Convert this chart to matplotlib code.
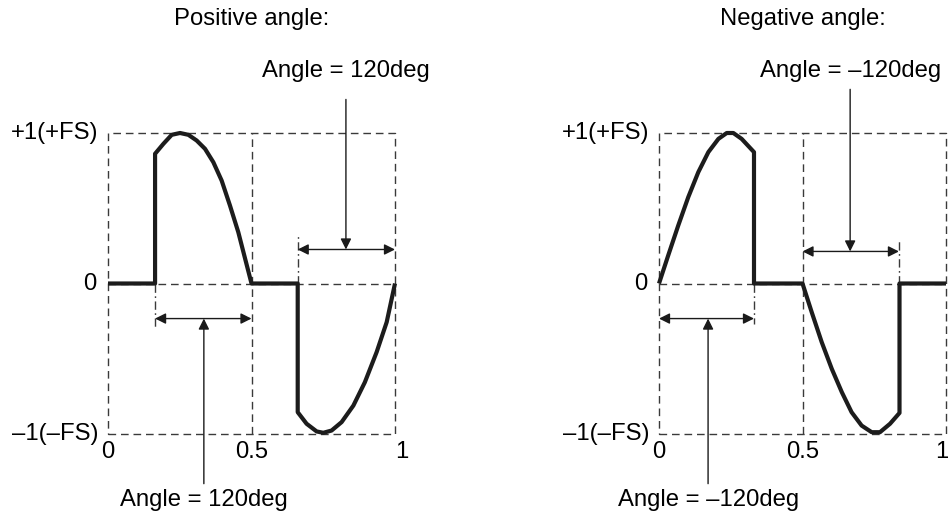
import matplotlib
matplotlib.use("Agg")
import matplotlib.pyplot as plt

plt.rcParams['font.family'] = ['Liberation Sans', 'DejaVu Sans']
plt.rcParams['font.size'] = 17.2

# waveform vertices (x in cycles, y in full scale)
pos_x = [0, 0.164, 0.164, 0.193, 0.222, 0.251, 0.280, 0.309, 0.338, 0.367,
         0.396, 0.425, 0.454, 0.5,
         0.661, 0.661, 0.692, 0.727, 0.750, 0.779, 0.814, 0.855, 0.895,
         0.936, 0.971, 1.0]
pos_y = [0, 0, 0.862, 0.928, 0.988, 1.0, 0.988, 0.950, 0.895, 0.806,
         0.684, 0.518, 0.341, 0,
         0, -0.855, -0.932, -0.983, -0.992, -0.977, -0.921, -0.811, -0.656,
         -0.456, -0.257, 0]

neg_x = [0, 0.032, 0.067, 0.102, 0.137, 0.172, 0.207, 0.236, 0.259, 0.288,
         0.331, 0.331, 0.5,
         0.532, 0.567, 0.602, 0.637, 0.671, 0.706, 0.741, 0.770, 0.805,
         0.838, 0.838, 1.0]
neg_y = [0, 0.186, 0.385, 0.574, 0.740, 0.873, 0.961, 1.0, 1.0, 0.961,
         0.873, 0, 0,
         -0.19, -0.39, -0.567, -0.722, -0.855, -0.944, -0.988, -0.988, -0.932,
         -0.86, 0, 0]

titles = ['Positive angle:', 'Negative angle:']
angle_labels = ['Angle = 120deg', 'Angle = \u2013120deg']
y_labels = ['+1(+FS)', '0', '\u20131(\u2013FS)']
y_ticks = [1, 0, -1]
x_labels = ['0', '0.5', '1']
x_ticks = [0, 0.5, 1]

# phase-cut spans: (start, end) of the 120deg windows, lower then upper
spans_pos = [(0.164, 0.5), (0.661, 1.0)]
spans_neg = [(0.0, 0.331), (0.5, 0.836)]

W, H = 948, 517
fig = plt.figure(figsize=(W / 100, H / 100), dpi=100)

dash_col = '#3a3a3a'
wave_col = '#1c1c1c'


def panel(left_px, wx, wy, spans, ext, pointer_x, top_ptr, top_arrow_y,
          ext_len, label, title, one_x):
    ax = fig.add_axes([left_px / W, (H - 434) / H, 287 / W, 301 / H])
    ax.set_xlim(0, 1)
    ax.set_ylim(-1, 1)
    ax.axis('off')

    # dashed frame
    kw = dict(color=dash_col, lw=1.0, dashes=(5.5, 3.5), clip_on=False)
    ax.plot([0, 1, 1, 0, 0], [-1, -1, 1, 1, -1], **kw)
    ax.plot([0.5, 0.5], [-1, 1], **kw)
    ax.plot([0, 1], [0, 0], **kw)

    # waveform
    ax.plot(wx, wy, color=wave_col, lw=3.0, solid_joinstyle='round',
            solid_capstyle='butt', clip_on=False, zorder=5)

    # extension lines
    for xe, ye in zip(ext, ext_len):
        ax.plot([xe, xe], [0, ye], color=dash_col, lw=1.0,
                dashes=(6, 2.5, 1.2, 2.5), clip_on=False)

    # span arrows
    arrow_ys = [-0.233, top_arrow_y]
    for (s, e), ya in zip(spans, arrow_ys):
        ax.annotate('', xy=(e, ya), xytext=(s, ya),
                    arrowprops=dict(arrowstyle='<|-|>', color='#1a1a1a',
                                    lw=1.0, mutation_scale=16,
                                    shrinkA=0, shrinkB=0), annotation_clip=False)

    # pointers
    ax.annotate('', xy=(pointer_x[0], -0.233), xytext=(pointer_x[0], -1.33),
                arrowprops=dict(arrowstyle='-|>', color='#1a1a1a', lw=1.0,
                                mutation_scale=16, shrinkA=0, shrinkB=0),
                annotation_clip=False)
    ax.annotate('', xy=(pointer_x[1], top_arrow_y), xytext=(pointer_x[1], top_ptr),
                arrowprops=dict(arrowstyle='-|>', color='#1a1a1a', lw=1.0,
                                mutation_scale=16, shrinkA=0, shrinkB=0),
                annotation_clip=False)

    ax.text(pointer_x[0], -1.44, label, ha='center', va='center', clip_on=False)
    ax.text(pointer_x[1], 1.415, label, ha='center', va='center', clip_on=False)
    ax.text(0.5, 1.76, title, ha='center', va='center', clip_on=False)

    for yt, yl in zip(y_ticks, y_labels):
        xo = -0.04 if yl == '0' else -0.032
        ax.text(xo, yt, yl, ha='right', va='center', clip_on=False)
    for i, (xt, xl) in enumerate(zip(x_ticks, x_labels)):
        xx = one_x if i == 2 else xt
        ax.text(xx, -1.12, xl, ha='center', va='center', clip_on=False)


panel(108, pos_x, pos_y, spans_pos, [0.164, 0.661], [0.334, 0.829], 1.223, 0.226,
      [-0.3, 0.32], angle_labels[0], titles[0], 1.024)
panel(659, neg_x, neg_y, spans_neg, [0.331, 0.836], [0.171, 0.666], 1.29, 0.213,
      [-0.27, 0.286], angle_labels[1], titles[1], 0.985)

fig.savefig('out.png', dpi=100)
